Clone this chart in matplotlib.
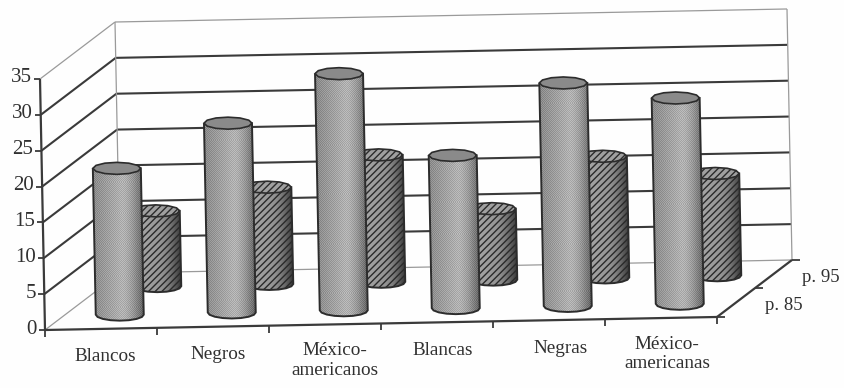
import numpy as np
import matplotlib
matplotlib.use("Agg")
import matplotlib.pyplot as plt
from matplotlib.path import Path
from matplotlib.patches import PathPatch

categories = ["Blancos", "Negros", "México-\namericanos", "Blancas", "Negras", "México-\namericanas"]
p85 = [20.4, 26.4, 33.0, 21.3, 31.1, 28.7]
p95 = [10.5, 13.5, 17.7, 9.9, 16.9, 14.2]
y_ticks = [0, 5, 10, 15, 20, 25, 30, 35]
depth_labels = ["p. 85", "p. 95"]

plt.rcParams["font.family"] = ["Liberation Serif", "DejaVu Serif"]
plt.rcParams["hatch.linewidth"] = 1.0
TXT = "#303030"; LINE = "#3a3a3a"; LIGHT = "#9a9a9a"
label_nudge = [4, 5, 10, 6, 12, 6]

fig = plt.figure(figsize=(8.44, 3.88), dpi=100, facecolor="#fefefe")
ax = fig.add_axes([0, 0, 1, 1])
ax.set_axis_off()

def P(c, d, v):
    """category units, depth fraction, value -> canvas coordinates"""
    return (45 + 112 * c + 75 * d - v * 5 / 35,
            330 - 2.17 * c - 57 * d - v * 251 / 35)

def seg(a, b, color=LINE, lw=1.4, ls="-", z=1):
    ax.plot([a[0], b[0]], [a[1], b[1]], color=color, lw=lw, ls=ls, zorder=z, solid_capstyle="butt")

# walls and gridlines
for v in y_ticks:
    edge = v in (0, 35)
    col = LIGHT if edge else LINE
    lw = 0.9 if edge else 1.5
    seg(P(0, 0, v), P(0, 1, v), col, lw)
    seg(P(0, 1, v), P(6, 1, v), col, lw)
    seg(P(0, 0, v), (P(0, 0, v)[0] - 6, P(0, 0, v)[1]), LINE, 1.3, z=5)
    x, y = P(0, 0, v)
    ax.text(x - 8, y - 1, str(v), ha="right", va="center", fontsize=15, color=TXT)
seg(P(0, 1, 0), P(0, 1, 35), LIGHT, 0.9)
seg(P(6, 1, 0), P(6, 1, 35), LIGHT, 0.9)
seg(P(0, 0, 0), P(0, 0, 35), LINE, 1.6, z=5)
seg(P(0, 0, 0), P(6, 0, 0), LINE, 1.6, z=5)
seg(P(6, 0, 0), P(6, 1, 0), LINE, 1.6, z=5)
for c in range(7):
    x, y = P(c, 0, 0)
    seg((x, y), (x, y + 7), LINE, 1.3, z=5)
for d in (0, 0.5, 1):
    x, y = P(6, d, 0)
    seg((x, y), (x + 8, y), LINE, 1.3, z=5)

# labels
for c, name in enumerate(categories):
    x, y = P(c + 0.5, 0, 0)
    ax.text(x + label_nudge[c], y + (36 if "\n" in name else 28), name, ha="center", va="center",
            fontsize=13.8, color=TXT, linespacing=1.22)
for d, name in zip((0.25, 0.75), depth_labels):
    x, y = P(6, d, 0)
    ax.text(x + 29, y + 3, name, ha="left", va="center", fontsize=13.5, color=TXT)

# cylinders
R, r = 24, 6
th = np.linspace(0, 2 * np.pi, 13)

def cylinder(c, d, v, light, mid, dark, top, hatch, z):
    bx, by = P(c + 0.5, d, 0)
    tx, ty = P(c + 0.5, d, v)
    low = np.linspace(np.pi, 0, 9)
    verts = [(tx - R, ty)] + [(bx + R * np.cos(t), by + r * np.sin(t)) for t in low] + [(tx + R, ty), (tx - R, ty)]
    body = Path(verts)
    n = int(2 * R + 8)
    s = np.linspace(-1, 1, n)
    g = np.where(s < 0.15, light + (mid - light) * (s + 1) / 1.15,
                 mid + (dark - mid) * ((s - 0.15) / 0.85) ** 1.6)
    h = int(by - ty + 2 * r + 4)
    img = np.tile(g, (h, 1))
    if hatch is None:
        yy, xx = np.mgrid[0:h, 0:n]
        img = img + 26 * (((xx + yy) % 2) - 0.5)
    im = ax.imshow(np.clip(img, 0, 255), cmap="gray", vmin=0, vmax=255, aspect="auto", interpolation="nearest",
                   extent=(bx - R - 6, bx + R + 2, by + r + 2, ty - 2), zorder=z)
    patch = PathPatch(body, fc="none", ec="none", transform=ax.transData, zorder=z)
    ax.add_patch(patch)
    im.set_clip_path(patch)
    if hatch:
        ax.add_patch(PathPatch(body, fc="none", ec="#2a2a2a", lw=0, hatch=hatch, zorder=z + 0.1))
    ax.add_patch(PathPatch(body, fc="none", ec="#2c2c2c", lw=1.4, zorder=z + 0.2))
    cap = Path(np.column_stack([tx + R * np.cos(th), ty + r * np.sin(th)]))
    ax.add_patch(PathPatch(cap, fc=top, ec="#2c2c2c", lw=1.2, hatch=hatch, zorder=z + 0.3))

for i, v in enumerate(p95):
    cylinder(i, 0.75, v, 175, 150, 45, "#a0a0a0", "/////", 10 + i)
for i, v in enumerate(p85):
    cylinder(i, 0.25, v, 135, 178, 85, "#8a8a8a", None, 20 + i)

ax.set_xlim(0, 844)
ax.set_ylim(388, 0)
fig.savefig("out.png", dpi=100, facecolor=fig.get_facecolor())
